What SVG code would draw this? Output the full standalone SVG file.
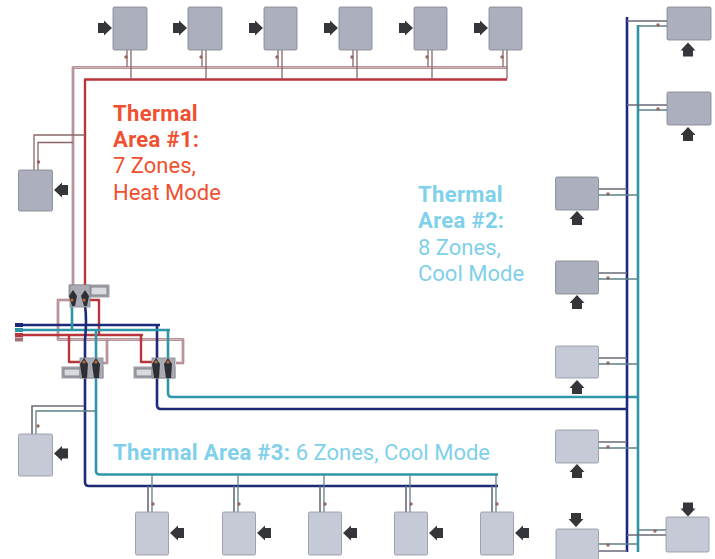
<svg xmlns="http://www.w3.org/2000/svg" xmlns:xlink="http://www.w3.org/1999/xlink" width="715" height="559" viewBox="0 0 715 559">
<style>
.p{fill:none;stroke-linejoin:round}
.pk{stroke:#a0747a;stroke-width:2.6}
.pk2{stroke:#e2c4c6;stroke-width:.8}
.rd{stroke:#b8353c;stroke-width:2.4}
.nv{stroke:#1c2a78;stroke-width:2.6}
.tl{stroke:#2f96a8;stroke-width:2.6}
.s1{stroke:#6b6b78;stroke-width:1.6;fill:none}
.s2{stroke:#5e8288;stroke-width:1.3;fill:none}
.s3{stroke:#8a666a;stroke-width:1.3;fill:none}
.u1{fill:#acb0be;stroke:#7f828c;stroke-width:.8}
.u2{fill:#c6cad7;stroke:#8f929d;stroke-width:.8}
.ar{fill:#34363a}
.d{fill:#96675c}
.v{fill:#a9acb4;stroke:#85878e;stroke-width:.8}
.vl{fill:#d9dade;stroke:#6d6f76;stroke-width:.8}
.vd{fill:#2e2f36}
.vo{fill:#c06a2e}
.hb{stroke-width:4;fill:none}
.t{font-family:"Roboto","Liberation Sans",sans-serif;font-size:22px}
.b{font-weight:700;letter-spacing:.35px}
.or{fill:#ef5030}
.bl{fill:#7fd0ea}
</style>
<defs>
<polygon id="a" class="ar" points="-7,-5 -1,-5 -1,-7.500 7,0 -1,7.500 -1,5 -7,5"/>
<filter id="soft" x="-20%" y="-20%" width="140%" height="140%"><feGaussianBlur stdDeviation=".5"/></filter>
</defs>
<g id="connectors">
<path class="p pk" d="M73 285V67.500H507"/>
<path class="p pk2" d="M73 285V67.500H507"/>
<path class="p rd" d="M85 285V79.500H507"/>
<path class="s3" d="M34 170V135H85M38 170V142.500H73"/>
<path class="s3" d="M127 50V67M131 50V79M202 50V67M206 50V79M278 50V67M282 50V79M353 50V67M357 50V79M428 50V67M432 50V79M503 50V67M507 50V79"/>
<path class="p pk" d="M71 300H58V339.500H183V363H176"/>
<path class="p pk2" d="M71 300H58V339.500H183V363H176"/>
<path class="p pk" d="M107 339.500V363H100"/>
<path class="p pk2" d="M107 339.500V363H100"/>
<path class="p rd" d="M16 335H143M88 300H99V335M69 335V362H80M141 335V362H152"/>
<path class="p nv" d="M16 325H160M157 325V405Q157 409 161 409H627"/>
<path class="p tl" d="M16 330H170M168 330V393Q168 397 172 397H638M72 305V330"/>
<path class="p nv" d="M85 305Q87 320 85 340V482Q85 486 89 486H498"/>
<path class="p tl" d="M96 330V471Q96 474.500 100 474.500H498"/>
<path class="s1" d="M32 434V406H84"/>
<path class="s2" d="M36 434V411H96"/>
<path class="s1" d="M148 486V512M234 486V512M320 486V512M406 486V512M492 486V512"/>
<path class="s2" d="M152 474V512M238 474V512M324 474V512M410 474V512M496 474V512"/>
<path class="p nv" d="M627 17V552"/>
<path class="p tl" d="M638 25V552"/>
<path class="s1" d="M627 21H667M627 105H667M598 189H627M598 273H627M598 358H627M598 442H627M598 551H627M627 535H666"/>
<path class="s2" d="M638 26H667M638 110H667M598 195H638M598 279H638M598 364H638M598 448H638M598 544H638M638 530H666"/>
</g>
<g id="header" filter="url(#soft)">
<path class="hb" stroke="#1c2a78" d="M15 325H23"/><path class="hb" stroke="#2f96a8" d="M15 330H23"/><path class="hb" stroke="#b8353c" d="M15 335H23"/><path class="hb" stroke="#a0747a" d="M15 339.500H23"/>
</g>
<g id="valve-1" filter="url(#soft)"><rect class="v" x="69" y="285" width="40" height="12"/><rect class="vl" x="91" y="287" width="16" height="8"/><rect class="v" x="70" y="285" width="20" height="22"/><path class="vd" d="M69 296l4-6 4 6-2 10h-3zM81 296l4-6 4 6-2 10h-3z"/><circle class="vo" cx="72" cy="300" r="1.600"/><circle class="vo" cx="84" cy="300" r="1.600"/></g>
<g id="valve-2" filter="url(#soft)"><rect class="v" x="62" y="367" width="41" height="11"/><rect class="vl" x="64" y="369" width="16" height="7"/><rect class="v" x="80" y="358" width="23" height="20"/><path class="vd" d="M80 364l4-6 4 6-1 14h-5zM92 364l4-6 4 6-1 14h-5z"/><circle class="vo" cx="84" cy="362" r="1.600"/><circle class="vo" cx="96" cy="362" r="1.600"/></g>
<g id="valve-3" filter="url(#soft)"><rect class="v" x="134" y="367" width="41" height="11"/><rect class="vl" x="136" y="369" width="16" height="7"/><rect class="v" x="152" y="358" width="23" height="20"/><path class="vd" d="M152 364l4-6 4 6-1 14h-5zM164 364l4-6 4 6-1 14h-5z"/><circle class="vo" cx="156" cy="362" r="1.600"/><circle class="vo" cx="168" cy="362" r="1.600"/></g>
<g id="z1"><rect class="u1" x="113" y="7" width="34" height="43" rx="1.500"/><use xlink:href="#a" x="105" y="28"/><circle class="d" cx="126" cy="57" r="1.700"/></g>
<g id="z2"><rect class="u1" x="188" y="7" width="34" height="43" rx="1.500"/><use xlink:href="#a" x="180" y="28"/><circle class="d" cx="201" cy="57" r="1.700"/></g>
<g id="z3"><rect class="u1" x="264" y="7" width="33" height="43" rx="1.500"/><use xlink:href="#a" x="256" y="28"/><circle class="d" cx="277" cy="57" r="1.700"/></g>
<g id="z4"><rect class="u1" x="339" y="7" width="33" height="43" rx="1.500"/><use xlink:href="#a" x="331" y="28"/><circle class="d" cx="352" cy="57" r="1.700"/></g>
<g id="z5"><rect class="u1" x="414" y="7" width="33" height="43" rx="1.500"/><use xlink:href="#a" x="406" y="28"/><circle class="d" cx="427" cy="57" r="1.700"/></g>
<g id="z6"><rect class="u1" x="489" y="7" width="33" height="43" rx="1.500"/><use xlink:href="#a" x="481" y="28"/><circle class="d" cx="502" cy="57" r="1.700"/></g>
<g id="z7"><rect class="u1" x="18.500" y="170" width="34" height="41" rx="1.500"/><use xlink:href="#a" transform="translate(61 190) rotate(180)"/><circle class="d" cx="38.500" cy="162" r="1.700"/></g>
<g id="z8"><rect class="u1" x="667" y="7" width="44" height="33" rx="1.500"/><use xlink:href="#a" transform="translate(688 49.500) rotate(-90)"/><circle class="d" cx="658" cy="25" r="1.700"/></g>
<g id="z9"><rect class="u1" x="667" y="92" width="44" height="33" rx="1.500"/><use xlink:href="#a" transform="translate(688 134) rotate(-90)"/><circle class="d" cx="658" cy="109" r="1.700"/></g>
<g id="z10"><rect class="u1" x="555.500" y="177" width="43" height="33" rx="1.500"/><use xlink:href="#a" transform="translate(577 218) rotate(-90)"/><circle class="d" cx="608" cy="194" r="1.700"/></g>
<g id="z11"><rect class="u1" x="555.500" y="261" width="43" height="33" rx="1.500"/><use xlink:href="#a" transform="translate(577 302) rotate(-90)"/><circle class="d" cx="608" cy="278" r="1.700"/></g>
<g id="z12"><rect class="u2" x="555.500" y="346" width="43" height="32" rx="1.500"/><use xlink:href="#a" transform="translate(577 387) rotate(-90)"/><circle class="d" cx="608" cy="363" r="1.700"/></g>
<g id="z13"><rect class="u2" x="555.500" y="430" width="43" height="33" rx="1.500"/><use xlink:href="#a" transform="translate(577 471) rotate(-90)"/><circle class="d" cx="608" cy="447" r="1.700"/></g>
<g id="z14"><rect class="u2" x="556" y="529" width="42.500" height="32" rx="1.500"/><use xlink:href="#a" transform="translate(576 520) rotate(90)"/><circle class="d" cx="608" cy="545" r="1.700"/></g>
<g id="z15"><rect class="u2" x="666" y="517" width="43" height="35" rx="1.500"/><use xlink:href="#a" transform="translate(688 509.500) rotate(90)"/><circle class="d" cx="655" cy="531" r="1.700"/></g>
<g id="z16"><rect class="u2" x="18.500" y="434" width="34" height="42" rx="1.500"/><use xlink:href="#a" transform="translate(61 453.500) rotate(180)"/><circle class="d" cx="38" cy="426" r="1.700"/></g>
<g id="z17"><rect class="u2" x="135.500" y="512" width="33" height="43" rx="1.500"/><use xlink:href="#a" transform="translate(177 533) rotate(180)"/><circle class="d" cx="153" cy="504" r="1.700"/></g>
<g id="z18"><rect class="u2" x="222.500" y="512" width="33" height="43" rx="1.500"/><use xlink:href="#a" transform="translate(264 533) rotate(180)"/><circle class="d" cx="239" cy="504" r="1.700"/></g>
<g id="z19"><rect class="u2" x="308.500" y="512" width="33" height="43" rx="1.500"/><use xlink:href="#a" transform="translate(350 533) rotate(180)"/><circle class="d" cx="325" cy="504" r="1.700"/></g>
<g id="z20"><rect class="u2" x="394.500" y="512" width="33" height="43" rx="1.500"/><use xlink:href="#a" transform="translate(436 533) rotate(180)"/><circle class="d" cx="411" cy="504" r="1.700"/></g>
<g id="z21"><rect class="u2" x="480.500" y="512" width="33" height="43" rx="1.500"/><use xlink:href="#a" transform="translate(522 533) rotate(180)"/><circle class="d" cx="497" cy="504" r="1.700"/></g>
<g id="labels">
<text class="t b or" x="113" y="121">Thermal</text>
<text class="t b or" x="113" y="147">Area #1:</text>
<text class="t or" x="113" y="173">7 Zones,</text>
<text class="t or" x="113" y="200">Heat Mode</text>
<text class="t b bl" x="418" y="202">Thermal</text>
<text class="t b bl" x="418" y="228">Area #2:</text>
<text class="t bl" x="418" y="255">8 Zones,</text>
<text class="t bl" x="418" y="281">Cool Mode</text>
<text class="t bl" x="113" y="460"><tspan class="b">Thermal Area #3:</tspan> 6 Zones, Cool Mode</text>
</g>
</svg>
